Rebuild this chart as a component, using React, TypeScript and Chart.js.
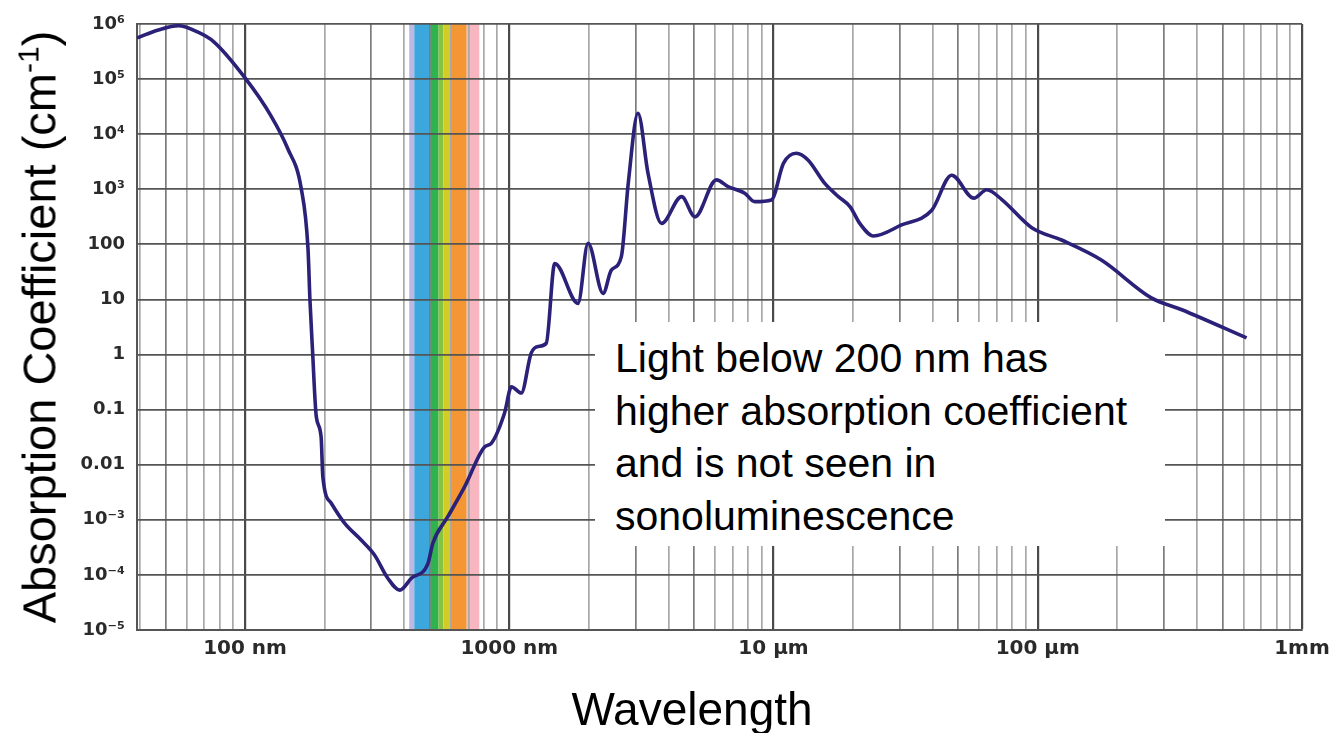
import React, { useEffect, useRef } from "react";
import { Chart, registerables } from "chart.js";

Chart.register(...registerables);

// Wavelength (nm) and absorption coefficient (cm^-1) of water
const wavelengthNm = [
  39, 47, 56, 66, 76, 100, 125, 145, 163, 173, 176, 180, 186, 194, 197, 212, 238, 275, 309, 347,
  385, 426, 492, 514, 586, 678, 806, 855, 959, 1019, 1110, 1210, 1285, 1380, 1486, 1820, 1986, 2265,
  2433, 2655, 2820, 3070, 3350, 3770, 4490, 5040, 6080, 6730, 7780, 8490, 9820, 10900, 12200, 13500,
  15600, 17600, 19500, 21200, 23900, 30500, 39700, 47200, 57300, 64100, 73100, 94900, 123000, 174000,
  269000, 351000, 617000,
];
const absorption = [
  5.6e5, 7.8e5, 9.3e5, 7.2e5, 4.8e5, 1.05e5, 2.2e4, 5.5e3, 1.06e3, 86, 10, 1.2, 0.075, 0.032, 0.006,
  0.002, 8.7e-4, 4.3e-4, 2.3e-4, 8.7e-5, 5.3e-5, 8.7e-5, 1.6e-4, 3.8e-4, 1.15e-3, 4e-3, 0.021, 0.0245,
  0.086, 0.26, 0.2, 1.06, 1.4, 1.6, 45, 8.5, 105, 12.9, 34, 60, 1290, 2.4e4, 1950, 240, 735, 316, 1480,
  1120, 850, 596, 640, 2950, 4500, 3400, 1290, 735, 480, 240, 142, 225, 415, 1800, 690, 980, 650, 200,
  120, 52, 10.7, 6.5, 2.0,
];

const xMin = 39;
const xMax = 1e6;
const yMin = 1e-5;
const yMax = 1e6;

const xTickValues = [100, 1000, 10000, 100000, 1000000];
const xTickLabels = ["100 nm", "1000 nm", "10 µm", "100 µm", "1mm"];

const yTickValues = [1e6, 1e5, 1e4, 1e3, 100, 10, 1, 0.1, 0.01, 1e-3, 1e-4, 1e-5];
const yTickLabels = ["10⁶", "10⁵", "10⁴", "10³", "100", "10", "1", "0.1", "0.01", "10⁻³", "10⁻⁴", "10⁻⁵"];

// Visible spectrum band
const bandStartNm = [418, 437, 502, 540, 563, 593, 690];
const bandEndNm = [437, 502, 540, 563, 593, 690, 770];
const bandColors = ["#bdb7e3", "#3ca7dc", "#2fb24f", "#86c43f", "#d3cb26", "#f49634", "#f8b7c0"];

const annotationLines = [
  "Light below 200 nm has",
  "higher absorption coefficient",
  "and is not seen in",
  "sonoluminescence",
];

const isDecade = (v: number) => Math.abs(Math.log10(v) - Math.round(Math.log10(v))) < 1e-9;

const bandPlugin = {
  id: "visibleBand",
  beforeDraw(chart: any) {
    const { ctx, chartArea, scales } = chart;
    const xs = scales.x;
    ctx.save();
    for (let i = 0; i < bandColors.length; i++) {
      const x0 = xs.getPixelForValue(bandStartNm[i]);
      const x1 = xs.getPixelForValue(bandEndNm[i]);
      ctx.fillStyle = bandColors[i];
      ctx.fillRect(x0, chartArea.top, x1 - x0, chartArea.bottom - chartArea.top);
    }
    ctx.restore();
  },
};

export default function App() {
  const canvasRef = useRef<HTMLCanvasElement | null>(null);

  useEffect(() => {
    const canvas = canvasRef.current;
    if (!canvas) return;

    const xGrid: number[] = [];
    for (let e = 1; e <= 5; e++) {
      for (let m = 1; m <= 9; m++) {
        const v = m * Math.pow(10, e);
        if (v > xMin && v < xMax) xGrid.push(v);
      }
    }
    xGrid.push(xMax);

    const points = wavelengthNm.map((w, i) => ({ x: w, y: absorption[i] }));

    const chart = new Chart(canvas, {
      type: "line",
      data: {
        datasets: [
          {
            data: points,
            borderColor: "#2b2179",
            borderWidth: 3.6,
            pointRadius: 0,
            cubicInterpolationMode: "monotone",
            fill: false,
          },
        ],
      },
      plugins: [bandPlugin],
      options: {
        animation: false,
        responsive: false,
        events: [],
        layout: { padding: { top: 24, right: 36, left: 0, bottom: 0 } },
        plugins: { legend: { display: false }, tooltip: { enabled: false } },
        scales: {
          x: {
            type: "logarithmic",
            min: xMin,
            max: xMax,
            afterBuildTicks: (scale: any) => {
              scale.ticks = xGrid.map((v) => ({ value: v }));
            },
            afterFit: (scale: any) => {
              scale.height = 103;
            },
            grid: {
              drawTicks: false,
              color: (ctx: any) => {
                const v = ctx.tick ? ctx.tick.value : 0;
                if (isDecade(v)) return "#4a4a4a";
                const m = Math.round(v / Math.pow(10, Math.floor(Math.log10(v) + 1e-9)));
                return m === 5 || m === 3 ? "#7c7c7c" : "#a8a8a8";
              },
              lineWidth: (ctx: any) => {
                const v = ctx.tick ? ctx.tick.value : 0;
                return isDecade(v) ? 2.2 : 1.7;
              },
            },
            border: { display: true, color: "#555", width: 2 },
            ticks: {
              autoSkip: false,
              maxRotation: 0,
              minRotation: 0,
              padding: 7,
              color: "#2a2a2a",
              font: { family: "'DejaVu Sans', Verdana, sans-serif", size: 20, weight: "bold" },
              callback: (value: any) => {
                const i = xTickValues.findIndex((t) => Math.abs(t - value) / t < 1e-6);
                return i >= 0 ? xTickLabels[i] : "";
              },
            },
          },
          y: {
            type: "logarithmic",
            min: yMin,
            max: yMax,
            afterBuildTicks: (scale: any) => {
              scale.ticks = yTickValues.slice().reverse().map((v) => ({ value: v }));
            },
            afterFit: (scale: any) => {
              scale.width = 137;
            },
            grid: {
              drawTicks: false,
              color: "#555555",
              lineWidth: 1.8,
            },
            border: { display: true, color: "#555", width: 2 },
            ticks: {
              autoSkip: false,
              padding: 12,
              color: "#2a2a2a",
              font: { family: "'DejaVu Sans', Verdana, sans-serif", size: 18, weight: "bold" },
              callback: (value: any) => {
                const i = yTickValues.findIndex((t) => Math.abs(t - value) / t < 1e-6);
                return i >= 0 ? yTickLabels[i] : "";
              },
            },
          },
        },
      },
    } as any);

    return () => {
      chart.destroy();
    };
  }, []);

  const sans = "'Liberation Sans', Arial, Helvetica, sans-serif";

  return (
    <div
      style={{
        position: "fixed",
        left: 0,
        top: 0,
        width: 1338,
        height: 733,
        background: "#ffffff",
        overflow: "hidden",
      }}
    >
      <canvas ref={canvasRef} width={1338} height={733} style={{ display: "block", width: 1338, height: 733 }} />

      {/* Annotation box */}
      <div
        style={{
          position: "absolute",
          left: 595,
          top: 322,
          width: 570,
          height: 224,
          background: "#ffffff",
          boxSizing: "border-box",
          paddingLeft: 20,
          paddingTop: 10,
          fontFamily: sans,
          fontSize: 41,
          lineHeight: "52.5px",
          color: "#000",
          whiteSpace: "nowrap",
        }}
      >
        {annotationLines.map((l, i) => (
          <div key={i}>{l}</div>
        ))}
      </div>

      {/* X axis title */}
      <div
        style={{
          position: "absolute",
          left: 492,
          top: 686,
          width: 400,
          textAlign: "center",
          fontFamily: sans,
          fontSize: 46,
          lineHeight: "46px",
          color: "#000",
          whiteSpace: "nowrap",
        }}
      >
        Wavelength
      </div>

      {/* Y axis title */}
      <div
        style={{
          position: "absolute",
          left: 39,
          top: 327,
          width: 800,
          height: 47,
          transform: "translate(-50%, -50%) rotate(-90deg)",
          textAlign: "center",
          fontFamily: sans,
          fontSize: 47,
          lineHeight: "47px",
          color: "#000",
          whiteSpace: "nowrap",
        }}
      >
        Absorption Coefficient (cm
        <span style={{ fontSize: 30, position: "relative", top: -17, lineHeight: 0 }}>-1</span>)
      </div>
    </div>
  );
}
